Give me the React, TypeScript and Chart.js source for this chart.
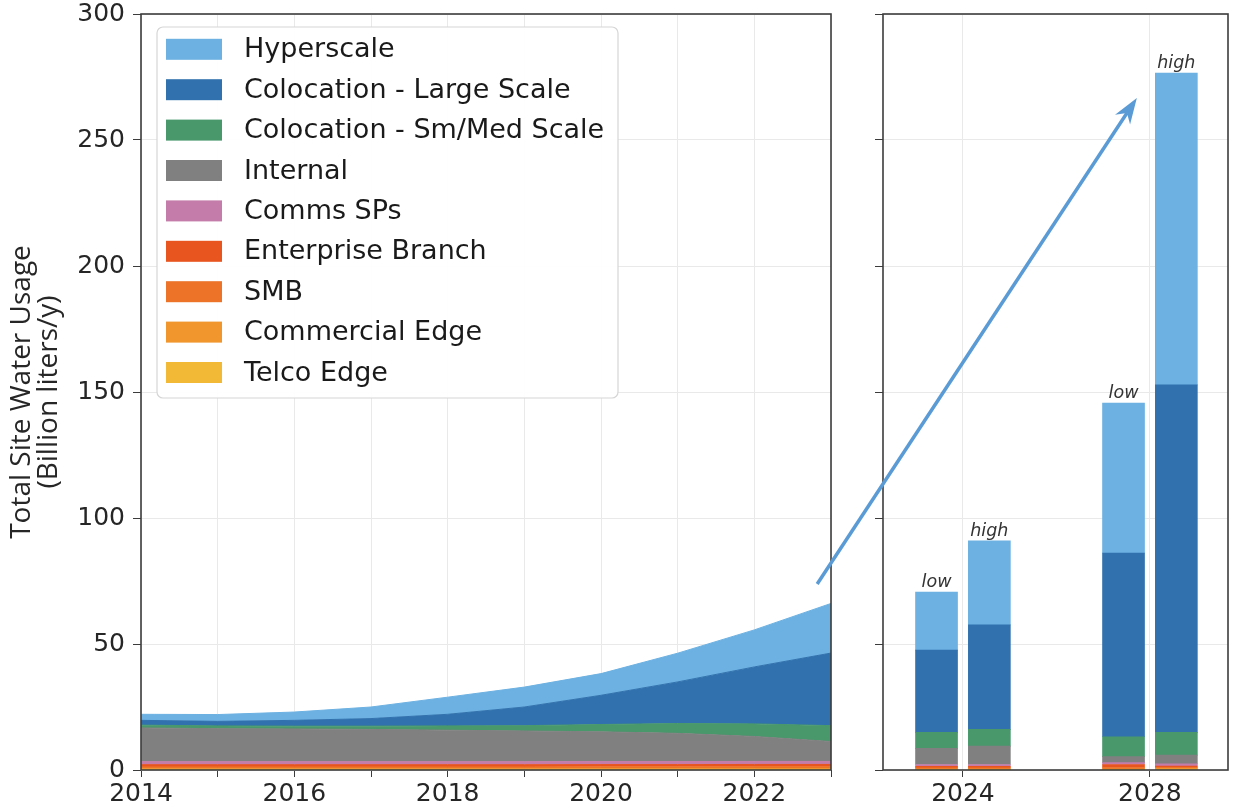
import React, { useEffect, useRef } from 'react';
import { Chart, registerables } from 'chart.js';

Chart.register(...registerables);

const W = 1233;
const H = 811;

// ---- series (bottom of stack first) ----
const seriesNames = [
  'Telco Edge',
  'Commercial Edge',
  'SMB',
  'Enterprise Branch',
  'Comms SPs',
  'Internal',
  'Colocation - Sm/Med Scale',
  'Colocation - Large Scale',
  'Hyperscale',
];
const seriesColors = [
  '#F2B937',
  '#F0962D',
  '#EC7328',
  '#E8551E',
  '#C47DAA',
  '#808080',
  '#48986C',
  '#3172AE',
  '#6CB1E2',
];

// ---- historical (2014-2023), billion liters/y ----
const histYears = [2014, 2015, 2016, 2017, 2018, 2019, 2020, 2021, 2022, 2023];
const telcoHist = [0.1, 0.1, 0.1, 0.1, 0.1, 0.1, 0.15, 0.15, 0.2, 0.2];
const commercialHist = [0.4, 0.4, 0.4, 0.4, 0.4, 0.4, 0.4, 0.4, 0.4, 0.4];
const smbHist = [0.7, 0.7, 0.7, 0.7, 0.7, 0.7, 0.7, 0.7, 0.7, 0.7];
const enterpriseHist = [0.9, 0.9, 0.9, 0.9, 0.9, 0.9, 0.9, 0.9, 0.9, 0.9];
const commsHist = [1.2, 1.2, 1.2, 1.2, 1.2, 1.2, 1.2, 1.2, 1.2, 1.2];
const internalHist = [13.4, 13.1, 13.0, 12.8, 12.5, 12.2, 11.8, 11.2, 9.9, 7.9];
const smMedHist = [1.1, 1.1, 1.1, 1.3, 1.7, 2.1, 2.9, 3.9, 5.0, 6.3];
const largeHist = [1.9, 1.8, 2.3, 3.0, 4.6, 7.4, 11.6, 16.5, 22.6, 28.8];
const hyperHist = [2.4, 2.7, 3.3, 4.6, 6.8, 7.9, 8.6, 11.4, 14.7, 19.7];

// ---- projections ----
const projYears = [2024, 2024, 2028, 2028];
const scenarios = ['low', 'high', 'low', 'high'];
const telcoProj = [0.1, 0.1, 0.1, 0.2];
const commercialProj = [0.3, 0.3, 0.3, 0.5];
const smbProj = [0.5, 0.5, 0.6, 0.4];
const enterpriseProj = [0.6, 0.6, 1.2, 0.5];
const commsProj = [0.7, 0.7, 0.7, 0.8];
const internalProj = [6.4, 7.3, 2.4, 3.5];
const smMedProj = [6.3, 6.6, 7.9, 9.0];
const largeProj = [32.7, 41.5, 72.9, 137.9];
const hyperProj = [23.0, 33.3, 59.5, 123.8];

const histSeries = [telcoHist, commercialHist, smbHist, enterpriseHist, commsHist, internalHist, smMedHist, largeHist, hyperHist];
const projSeries = [telcoProj, commercialProj, smbProj, enterpriseProj, commsProj, internalProj, smMedProj, largeProj, hyperProj];

// axis ticks
const yMin = 0;
const yMax = 300;
const yStep = 50;
const projTickYears = [2024, 2028];

// annotation arrow (from left panel point to right panel point), data coords
const arrowFrom = [2022.82, 73.8];
const arrowTo = [2027.72, 266.7];

const scenarioOffset: Record<string, number> = { low: -0.565, high: 0.565 };

const TICK_FONT = { family: '"DejaVu Sans", sans-serif', size: 25, lineHeight: 1 };
const TEXT_COLOR = '#262626';
const GRID_COLOR = '#e9e9e9';
const AXIS_COLOR = '#3c3c3c';

const boxPlugin = {
  id: 'boxPlugin',
  afterDatasetsDraw(chart: any) {
    const { ctx, chartArea: a } = chart;
    ctx.save();
    ctx.strokeStyle = AXIS_COLOR;
    ctx.lineWidth = 1.6;
    ctx.strokeRect(a.left, a.top, a.right - a.left, a.bottom - a.top);
    ctx.restore();
  },
};

const legendPlugin = {
  id: 'boxLegend',
  afterDraw(chart: any) {
    const { ctx, chartArea: a } = chart;
    const ds = chart.data.datasets;
    const bx = a.left + 16;
    const by = a.top + 13;
    const bw = 461;
    const bh = 371;
    ctx.save();
    ctx.beginPath();
    ctx.roundRect(bx, by, bw, bh, 6);
    ctx.fillStyle = 'rgba(255,255,255,0.92)';
    ctx.fill();
    ctx.strokeStyle = '#d6d6d6';
    ctx.lineWidth = 1.2;
    ctx.stroke();
    ctx.font = '27px "DejaVu Sans", sans-serif';
    ctx.textBaseline = 'middle';
    ctx.textAlign = 'left';
    for (let j = 0; j < ds.length; j++) {
      const d = ds[ds.length - 1 - j];
      const cy = by + 22.3 + j * 40.4;
      ctx.fillStyle = d.backgroundColor;
      ctx.fillRect(bx + 9, cy - 10.5, 56, 21);
      ctx.fillStyle = '#1a1a1a';
      ctx.fillText(d.label, bx + 87, cy + 1);
    }
    ctx.restore();
  },
};

const fixVerticalPadding = (s: any, width: number) => {
  s.width = width;
  s.paddingTop = 0;
  s.paddingBottom = 0;
};

export default function App() {
  const leftRef = useRef<HTMLCanvasElement>(null);
  const rightRef = useRef<HTMLCanvasElement>(null);

  useEffect(() => {
    if (!leftRef.current || !rightRef.current) return;

    const leftChart = new Chart(leftRef.current, {
      type: 'line',
      data: {
        datasets: seriesNames.map((name, k) => ({
          label: name,
          data: histYears.map((yr, i) => ({ x: yr, y: histSeries[k][i] })),
          backgroundColor: seriesColors[k],
          borderColor: seriesColors[k],
          borderWidth: 1,
          fill: k === 0 ? 'origin' : '-1',
          pointRadius: 0,
          tension: 0,
        })),
      },
      options: {
        responsive: false,
        animation: false,
        events: [],
        layout: { padding: { left: 0, top: 14, right: W - 831, bottom: 0 } },
        plugins: { legend: { display: false }, tooltip: { enabled: false } },
        scales: {
          x: {
            type: 'linear',
            min: histYears[0],
            max: histYears[histYears.length - 1],
            border: { display: false },
            grid: { color: GRID_COLOR, tickColor: AXIS_COLOR, tickLength: 7, lineWidth: 1 },
            ticks: {
              stepSize: 1,
              autoSkip: false,
              maxRotation: 0,
              padding: 5,
              color: TEXT_COLOR,
              font: TICK_FONT,
              callback: (v: any) => (Number(v) % 2 === 0 ? String(v) : ''),
            },
            afterFit: (s: any) => {
              s.height = H - 770;
            },
          },
          y: {
            min: yMin,
            max: yMax,
            stacked: true,
            border: { display: false },
            grid: { color: GRID_COLOR, tickColor: AXIS_COLOR, tickLength: 8 },
            ticks: { stepSize: yStep, padding: 8, color: TEXT_COLOR, font: TICK_FONT },
            title: {
              display: true,
              text: ['Total Site Water Usage', '(Billion liters/y)'],
              color: TEXT_COLOR,
              font: { family: '"Open Sans", sans-serif', size: 28, lineHeight: 0.95 },
              padding: { top: 9, bottom: 0 },
            },
            afterFit: (s: any) => fixVerticalPadding(s, 141),
          },
        },
      },
      plugins: [boxPlugin, legendPlugin],
    } as any);

    const scenarioLabelPlugin = {
      id: 'scenarioLabels',
      afterDatasetsDraw(chart: any) {
        const { ctx } = chart;
        const top = chart.getDatasetMeta(chart.data.datasets.length - 1);
        ctx.save();
        ctx.font = 'italic 17.5px "DejaVu Sans", sans-serif';
        ctx.fillStyle = '#333333';
        ctx.textAlign = 'center';
        ctx.textBaseline = 'alphabetic';
        top.data.forEach((el: any, i: number) => {
          ctx.fillText(scenarios[i], el.x, el.y - 5);
        });
        ctx.restore();
      },
    };

    const arrowPlugin = {
      id: 'arrow',
      afterDraw(chart: any) {
        const { ctx } = chart;
        const x1 = leftChart.scales.x.getPixelForValue(arrowFrom[0]);
        const y1 = leftChart.scales.y.getPixelForValue(arrowFrom[1]);
        const x2 = chart.scales.x.getPixelForValue(arrowTo[0]);
        const y2 = chart.scales.y.getPixelForValue(arrowTo[1]);
        const dx = x2 - x1;
        const dy = y2 - y1;
        const len = Math.hypot(dx, dy);
        const ux = dx / len;
        const uy = dy / len;
        const nx = -uy;
        const ny = ux;
        const L = 26;
        const hw = 9;
        const notch = 8;
        ctx.save();
        ctx.strokeStyle = '#5B9BD5';
        ctx.fillStyle = '#5B9BD5';
        ctx.lineWidth = 3.5;
        ctx.lineCap = 'butt';
        ctx.beginPath();
        ctx.moveTo(x1, y1);
        ctx.lineTo(x2 - (L - notch) * ux, y2 - (L - notch) * uy);
        ctx.stroke();
        ctx.beginPath();
        ctx.moveTo(x2, y2);
        ctx.lineTo(x2 - L * ux + hw * nx, y2 - L * uy + hw * ny);
        ctx.lineTo(x2 - (L - notch) * ux, y2 - (L - notch) * uy);
        ctx.lineTo(x2 - L * ux - hw * nx, y2 - L * uy - hw * ny);
        ctx.closePath();
        ctx.fill();
        ctx.restore();
      },
    };

    const rightChart = new Chart(rightRef.current, {
      type: 'bar',
      data: {
        datasets: seriesNames.map((name, k) => ({
          label: name,
          data: projYears.map((yr, i) => ({ x: yr + scenarioOffset[scenarios[i]], y: projSeries[k][i] })),
          backgroundColor: seriesColors[k],
          borderWidth: 0,
          barThickness: 42,
        })),
      },
      options: {
        responsive: false,
        animation: false,
        events: [],
        layout: { padding: { left: 0, top: 14, right: W - 1228, bottom: 0 } },
        plugins: { legend: { display: false }, tooltip: { enabled: false } },
        scales: {
          x: {
            type: 'linear',
            min: 2022.29,
            max: 2029.67,
            stacked: true,
            offset: false,
            border: { display: false },
            grid: { offset: false, color: GRID_COLOR, tickColor: AXIS_COLOR, tickLength: 7 },
            afterBuildTicks: (s: any) => {
              s.ticks = projTickYears.map((v) => ({ value: v }));
            },
            ticks: {
              autoSkip: false,
              maxRotation: 0,
              padding: 5,
              color: TEXT_COLOR,
              font: TICK_FONT,
              callback: (v: any) => String(v),
            },
            afterFit: (s: any) => {
              s.height = H - 770;
            },
          },
          y: {
            min: yMin,
            max: yMax,
            stacked: true,
            border: { display: false },
            grid: { color: GRID_COLOR, tickColor: AXIS_COLOR, tickLength: 8 },
            ticks: { stepSize: yStep, padding: 0, font: TICK_FONT, callback: () => '' },
            afterFit: (s: any) => fixVerticalPadding(s, 883),
          },
        },
      },
      plugins: [boxPlugin, scenarioLabelPlugin, arrowPlugin],
    } as any);

    return () => {
      rightChart.destroy();
      leftChart.destroy();
    };
  }, []);

  const canvasStyle: React.CSSProperties = { position: 'absolute', left: 0, top: 0 };
  return (
    <div style={{ position: 'absolute', left: 0, top: 0, width: W, height: H, background: '#ffffff' }}>
      <canvas ref={leftRef} width={W} height={H} style={canvasStyle} />
      <canvas ref={rightRef} width={W} height={H} style={canvasStyle} />
    </div>
  );
}
